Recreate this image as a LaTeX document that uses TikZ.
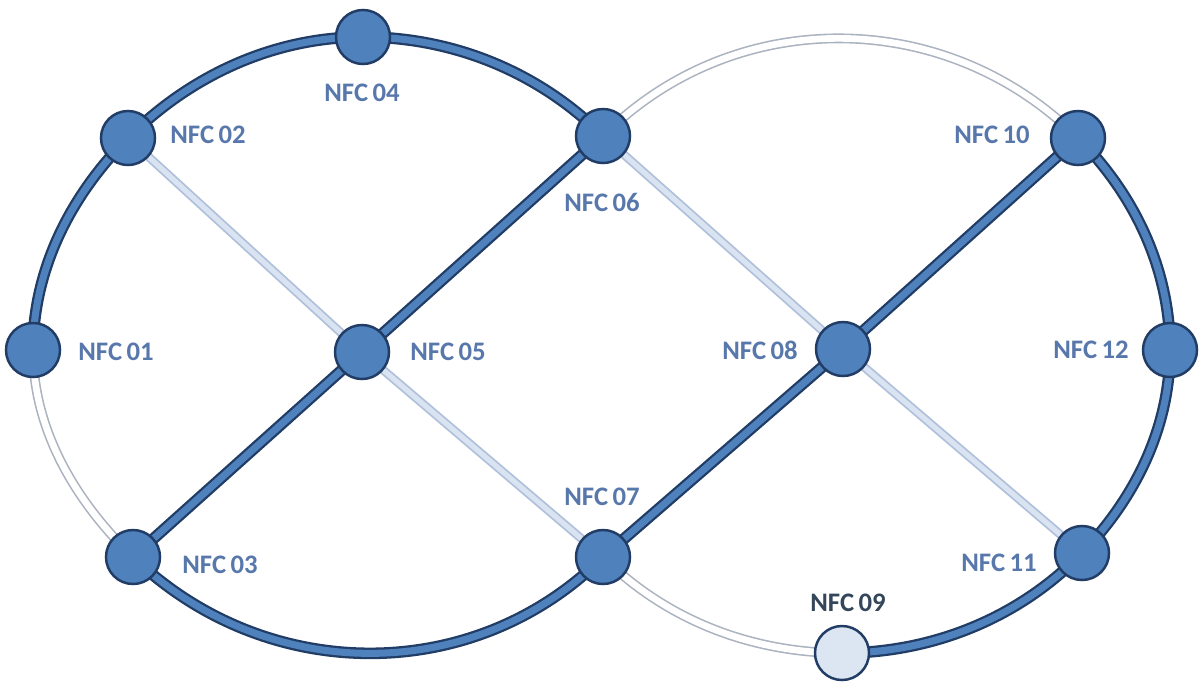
\documentclass[tikz,border=0pt]{standalone}
\usepackage{fontspec}
\setmainfont{Carlito}
\usetikzlibrary{backgrounds}

\definecolor{nodefill}{HTML}{4F81BD}
\definecolor{rim}{HTML}{213D66}
\definecolor{idlefill}{HTML}{DCE6F2}
\definecolor{labelblue}{HTML}{5878AC}
\definecolor{labeldark}{HTML}{34465A}
\definecolor{spareedge}{HTML}{ABB3C0}
\definecolor{crossedge}{HTML}{AFC0DA}
\definecolor{crossfill}{HTML}{D9E3F2}

\tikzset{
  site/.style={circle, fill=nodefill, draw=rim, line width=0.7pt,
    minimum size=0.54cm, inner sep=0pt},
  idle/.style={site, fill=idlefill},
  tag/.style={font=\bfseries\fontsize{7.6}{9}\selectfont, text=labelblue, inner sep=0pt},
  link/.style={draw=rim, line width=0.65pt, double=nodefill, double distance=2pt},
  spare/.style={draw=spareedge, line width=0.45pt, double=white, double distance=1.9pt},
  cross/.style={draw=crossedge, line width=0.5pt, double=crossfill, double distance=1.5pt},
}

\begin{document}
\begin{tikzpicture}[x=0.01cm, y=0.01cm]
\useasboundingbox (0,0) rectangle (1200,684);

% ring nodes
\node[site] (n01) at (33,334) {};
\node[site] (n02) at (128,546) {};
\node[site] (n03) at (133,127) {};
\node[site] (n04) at (363,647) {};
\node[site] (n05) at (362,332) {};
\node[site] (n06) at (603,548) {};
\node[site] (n07) at (603,127) {};
\node[site] (n08) at (843,335) {};
\node[idle] (n09) at (842,31) {};
\node[site] (n10) at (1078,546) {};
\node[site] (n11) at (1082,131) {};
\node[site] (n12) at (1170,334) {};

% labels
\node[tag] (t01) at (116,332) {NFC\,01};
\node[tag] (t02) at (208,549) {NFC\,02};
\node[tag] (t03) at (220,119) {NFC\,03};
\node[tag] (t04) at (362,591) {NFC\,04};
\node[tag] (t05) at (448,332) {NFC\,05};
\node[tag] (t06) at (602,482) {NFC\,06};
\node[tag] (t07) at (602,187) {NFC\,07};
\node[tag] (t08) at (760,334) {NFC\,08};
\node[tag, text=labeldark] (t09) at (848,81) {NFC\,09};
\node[tag] (t10) at (992,549) {NFC\,10};
\node[tag] (t11) at (999,121) {NFC\,11};
\node[tag] (t12) at (1091,334) {NFC\,12};

\begin{scope}[on background layer]
  \fill[white] (0,0) rectangle (1200,684);

  % standby links
  \draw[spare] (n01.center) to[out=270, in=136, looseness=0.89] (n03.center);
  \draw[spare] (n10.center) to[out=135, in=45] (n06.center);
  \draw[spare] (n07.center) to[out=315, in=180, looseness=0.89] (n09.center);

  % cross links
  \draw[cross] (n02.center) -- (n05.center);
  \draw[cross] (n05.center) -- (n07.center);
  \draw[cross] (n06.center) -- (n08.center);
  \draw[cross] (n08.center) -- (n11.center);

  % left ring
  \draw[link] (n02.center) to[out=225, in=90, looseness=0.89] (n01.center);
  \draw[link] (n04.center) to[out=180, in=45, looseness=0.89] (n02.center);
  \draw[link] (n06.center) to[out=135, in=0, looseness=0.89] (n04.center);
  \draw[link] (n03.center) to[out=316, in=225] (n07.center);

  % right ring
  \draw[link] (n12.center) to[out=90, in=315, looseness=0.89] (n10.center);
  \draw[link] (n11.center) to[out=46, in=270, looseness=0.89] (n12.center);
  \draw[link] (n09.center) to[out=0, in=226, looseness=0.89] (n11.center);

  % diagonals
  \draw[link] (n03.center) -- (n05.center);
  \draw[link] (n05.center) -- (n06.center);
  \draw[link] (n07.center) -- (n08.center);
  \draw[link] (n08.center) -- (n10.center);
\end{scope}
\end{tikzpicture}
\end{document}
